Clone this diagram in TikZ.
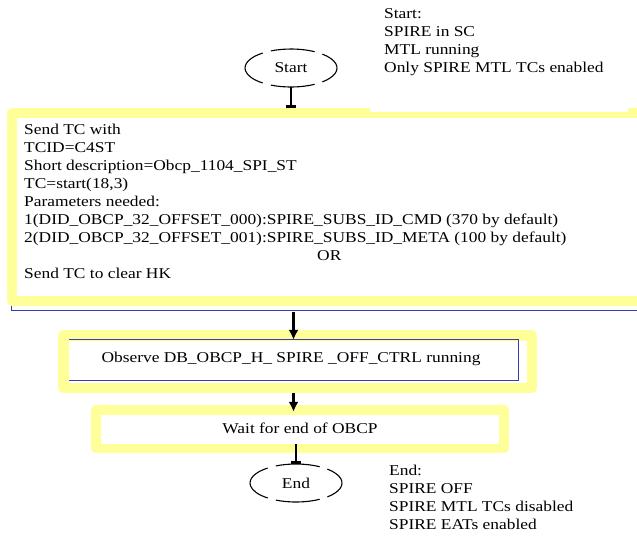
\documentclass[tikz,border=0pt]{standalone}
\usepackage{fontspec}
\setmainfont{Liberation Serif}[FakeStretch=1.16]
\usetikzlibrary{arrows.meta,calc,shapes.geometric}
\definecolor{ylw}{RGB}{255,255,153}
\definecolor{bln}{RGB}{60,60,170}
\newcommand\stk[1]{\vtop{\baselineskip=18pt\lineskiplimit=-20pt\relax #1}}
\newcommand\brokenell[1]{%
  \foreach \a/\b in {-47/47,59/116,128/232,244/301}{%
    \draw[ell] ([shift={(\a:46pt and 19pt)}]#1.center) arc[start angle=\a,end angle=\b,x radius=46pt,y radius=19pt];}}
\begin{document}
\begin{tikzpicture}[x=1pt,y=-1pt,
  every node/.style={font=\fontsize{15pt}{18pt}\selectfont, inner sep=0pt},
  txt/.style={anchor=base west},
  ellnode/.style={ellipse, minimum width=92pt, minimum height=38pt},
  ell/.style={line width=1.1pt},
  yframe/.style={draw=ylw, line width=10pt, line join=round},
  blueline/.style={draw=bln, line width=1.3pt},
  tbar/.style={line width=2.2pt, -{Bar[width=10pt,line width=2.4pt]}},
  tarrow/.style={line width=2.2pt, -{Latex[length=10pt,width=10pt]}},
]
\clip (0,0) rectangle (637,539);
\fill[white] (0,0) rectangle (637,539);

% box 1
\node[minimum width=634pt, minimum height=188pt] (box1) at (329,207) {};
\draw[blueline] (box1.north west) -- ([yshift=-9pt]box1.south west) -- ([yshift=-9pt]box1.south east);
\draw[yframe] (box1.north west) rectangle (box1.south east);
\fill[white] (370,0) rectangle (628,112);
\node[txt] (box1txt) at (24,134) {\stk{%
  \hbox{Send TC with}
  \hbox{TCID=C4ST}
  \hbox{Short description=Obcp\_1104\_SPI\_ST}
  \hbox{TC=start(18,3)}
  \hbox{Parameters needed:}
  \hbox{1(DID\_OBCP\_32\_OFFSET\_000):SPIRE\_SUBS\_ID\_CMD (370 by default)}
  \hbox{2(DID\_OBCP\_32\_OFFSET\_001):SPIRE\_SUBS\_ID\_META (100 by default)}
  \hbox{\kern293pt OR}
  \hbox{Send TC to clear HK}}};

% start
\node[ellnode] (start) at (291,68) {Start};
\brokenell{start}
\node[txt] (startnote) at (384,18.5) {\stk{%
  \hbox{Start:}
  \hbox{SPIRE in SC}
  \hbox{MTL running}
  \hbox{Only SPIRE MTL TCs enabled}}};
\draw[tbar] (start.south) -- ($(start.south |- box1.north)+(0,5pt)$);

% box 2
\node[minimum width=449pt, minimum height=40pt] (box2) at (293.5,360) {};
\draw[yframe, line width=10.5pt] ([shift={(-5.5pt,4.5pt)}]box2.north west) rectangle ([shift={(14pt,-8pt)}]box2.south east);
\draw[blueline] (box2.north west) -- (box2.north east) -- (box2.south east) -- (box2.south west);
\node[anchor=base] (box2txt) at (291,362) {Observe DB\_OBCP\_H\_ SPIRE \_OFF\_CTRL running};
\draw[tarrow] ($(box1.south -| box2.north)+(0,-11pt)$) -- (box2.north);

% box 3
\node[minimum width=398pt, minimum height=29pt] (box3) at (300,429.5) {};
\draw[yframe, line width=9.5pt] ([shift={(-5pt,5pt)}]box3.north west) rectangle ([shift={(5pt,-4.5pt)}]box3.south east);
\node[anchor=base] (box3txt) at (300,433) {Wait for end of OBCP};
\draw[tarrow] ($(box2.south)+(0,-13pt)$) -- ($(box2.south |- box3.north)+(0,3pt)$);

% end
\node[ellnode] (end) at (296,483) {End};
\brokenell{end}
\draw[tbar] (box3.south -| end.north) -- (end.north);
\node[txt] (endnote) at (389,475) {\stk{%
  \hbox{End:}
  \hbox{SPIRE OFF}
  \hbox{SPIRE MTL TCs disabled}
  \hbox{SPIRE EATs enabled}}};
\end{tikzpicture}
\end{document}
